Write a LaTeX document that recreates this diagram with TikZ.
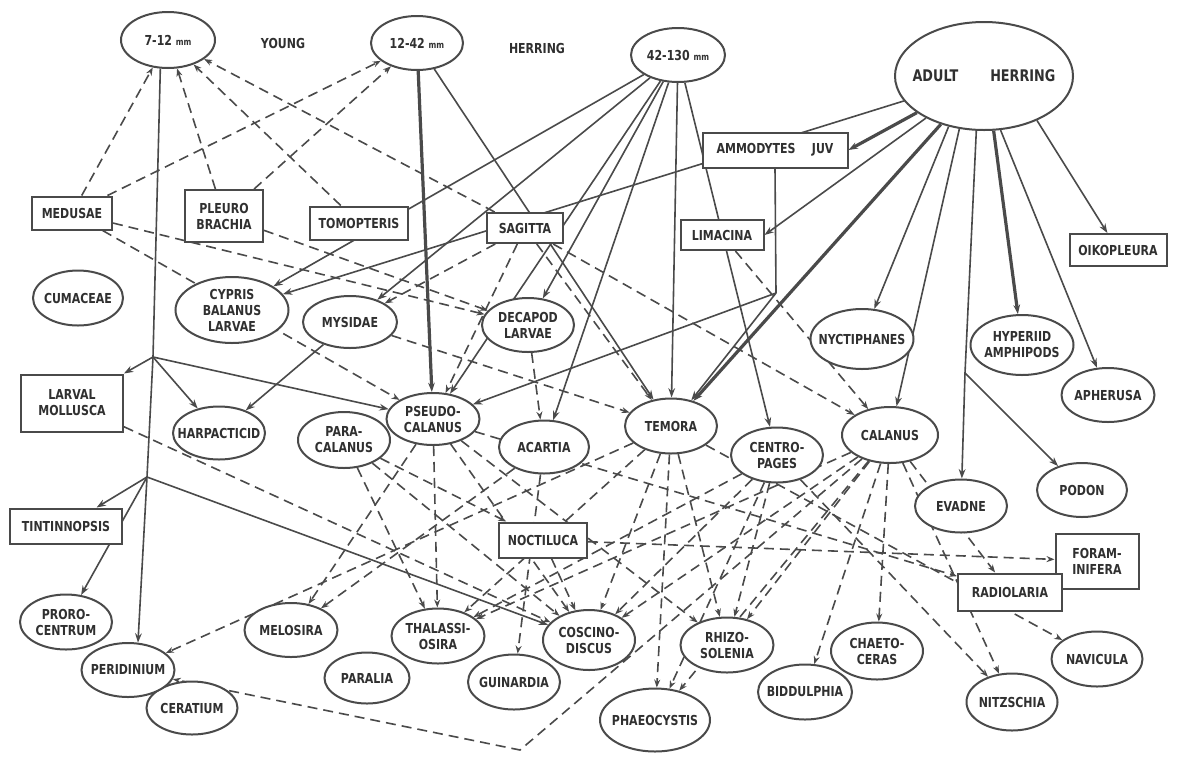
\documentclass[tikz,border=0pt]{standalone}
\usepackage{fontspec}
\setmainfont{DejaVu Sans}[FakeStretch=0.8]
\usetikzlibrary{shapes.geometric,arrows.meta,backgrounds}
\definecolor{ink}{HTML}{4A4A4A}
\definecolor{txt}{HTML}{303030}
\newcommand\mkEl[5]{\node[el,minimum width=#3*0.75pt,minimum height=#4*0.75pt] (#1) at (#2) {}; \node[lab] at (#1.center) {#5};}
\newcommand\mkBx[5]{\node[bx,minimum width=#3*0.75pt,minimum height=#4*0.75pt] (#1) at (#2) {}; \node[lab] at (#1.center) {#5};}
\begin{document}
\begin{tikzpicture}[x=0.75pt,y=-0.75pt,
  el/.style={ellipse,draw=ink,line width=1.5pt,fill=white,inner sep=0pt},
  bx/.style={rectangle,draw=ink,line width=1.5pt,fill=white,inner sep=0pt},
  lab/.style={text=txt,align=center,inner sep=0pt,font=\fontsize{10.3}{12}\selectfont\bfseries},
  sol/.style={draw=ink,line width=1.2pt,-{Stealth[length=7pt,width=5pt]}},
  thk/.style={sol,line width=2.4pt},
  plainln/.style={draw=ink,line width=1.2pt},
  dsh/.style={draw=ink,line width=1.2pt,dash pattern=on 7.5pt off 4.5pt,-{Stealth[length=6pt,width=4.5pt]}}]
\useasboundingbox (0,0) rectangle (1184,758);
% herring stages
\mkEl{n712}{168,40}{94}{56}{7-12 {\scriptsize mm}}
\mkEl{n1242}{417,43}{92}{54}{12-42 {\scriptsize mm}}
\mkEl{n42}{678,55}{94}{54}{42-130 {\scriptsize mm}}
\node[el,minimum width=178*0.75pt,minimum height=108*0.75pt] (adult) at (984,76) {};
\node[lab,font=\fontsize{12}{14}\selectfont\bfseries] at (adult.center) {ADULT\hspace{2em}HERRING};
\node[lab] (young) at (283,43) {YOUNG};
\node[lab] (herr) at (537,48) {HERRING};
% boxes
\mkBx{ammo}{775,150}{145}{35}{AMMODYTES\hspace{1.2em}JUV}
\mkBx{medusae}{72,213}{80}{33}{MEDUSAE}
\mkBx{pleuro}{224,216}{78}{52}{PLEURO\\BRACHIA}
\mkBx{tomop}{359,223}{98}{33}{TOMOPTERIS}
\mkBx{sagitta}{525,228}{76}{30}{SAGITTA}
\mkBx{limacina}{722,235}{83}{30}{LIMACINA}
\mkBx{oiko}{1118,250}{97}{32}{OIKOPLEURA}
\mkBx{larval}{72,403}{102}{57}{LARVAL\\MOLLUSCA}
\mkBx{tintin}{66,526}{112}{35}{TINTINNOPSIS}
\mkBx{noct}{543,540}{88}{35}{NOCTILUCA}
\mkBx{foram}{1097,561}{83}{55}{FORAM-\\INIFERA}
\mkBx{radio}{1010,592}{104}{37}{RADIOLARIA}
% ellipses
\mkEl{cumaceae}{78,298}{90}{55}{CUMACEAE}
\mkEl{cypris}{232,310}{113}{66}{CYPRIS\\BALANUS\\LARVAE}
\mkEl{mysidae}{350,322}{94}{52}{MYSIDAE}
\mkEl{decapod}{528,325}{92}{54}{DECAPOD\\LARVAE}
\mkEl{pseudo}{433,419}{93}{52}{PSEUDO-\\CALANUS}
\mkEl{para}{344,440}{92}{56}{PARA-\\CALANUS}
\mkEl{acartia}{544,447}{90}{53}{ACARTIA}
\mkEl{temora}{671,426}{92}{55}{TEMORA}
\mkEl{centro}{777,455}{92}{55}{CENTRO-\\PAGES}
\mkEl{calanus}{890,435}{96}{56}{CALANUS}
\mkEl{nyct}{862,339}{103}{60}{NYCTIPHANES}
\mkEl{hyper}{1022,345}{103}{60}{HYPERIID\\AMPHIPODS}
\mkEl{apher}{1108,395}{93}{54}{APHERUSA}
\mkEl{evadne}{961,506}{92}{53}{EVADNE}
\mkEl{podon}{1082,490}{90}{54}{PODON}
\mkEl{harp}{219,433}{92}{53}{HARPACTICID}
\mkEl{proro}{66,622}{92}{55}{PRORO-\\CENTRUM}
\mkEl{cerat}{192,708}{91}{53}{CERATIUM}
\mkEl{peri}{128,670}{93}{54}{PERIDINIUM}
\mkEl{melo}{291,630}{93}{54}{MELOSIRA}
\mkEl{paralia}{367,678}{85}{51}{PARALIA}
\mkEl{thal}{438,636}{93}{55}{THALASSI-\\OSIRA}
\mkEl{guin}{514,682}{92}{55}{GUINARDIA}
\mkEl{cosci}{589,640}{92}{60}{COSCINO-\\DISCUS}
\mkEl{rhizo}{727,645}{93}{55}{RHIZO-\\SOLENIA}
\mkEl{phaeo}{655,720}{110}{63}{PHAEOCYSTIS}
\mkEl{bidd}{805,692}{94}{55}{BIDDULPHIA}
\mkEl{chaeto}{877,651}{92}{57}{CHAETO-\\CERAS}
\mkEl{nitz}{1012,702}{91}{57}{NITZSCHIA}
\mkEl{navic}{1097,659}{91}{55}{NAVICULA}
% junctions
\coordinate (j1) at (153,357);
\coordinate (j2) at (147,477);
\coordinate (c1) at (776,293);
\coordinate (ev) at (965,373);
\coordinate (v1) at (520,750);
\begin{pgfonlayer}{background}
\fill[white] (0,0) rectangle (1184,758);
% solid: herring feeding
\draw[plainln] (n712.255) -- (j1) -- (j2);
\draw[sol] (j2) -- (peri.70);
\draw[sol] (j1) -- (larval);
\draw[sol] (j1) -- (harp);
\draw[sol] (j1) -- (pseudo);
\draw[sol] (j2) -- (tintin);
\draw[sol] (j2) -- (proro);
\draw[sol] (j2) -- (cosci);
\draw[sol] (mysidae) -- (harp);
\draw[thk] (n1242) -- (pseudo);
\draw[sol] (n1242) -- (temora);
\draw[sol] (n42) -- (cypris);
\draw[sol] (n42) -- (mysidae);
\draw[sol] (n42) -- (decapod);
\draw[sol] (n42) -- (pseudo);
\draw[sol] (n42) -- (acartia);
\draw[sol] (n42) -- (temora);
\draw[sol] (n42) -- (centro);
\draw[sol] (adult) -- (cypris);
\draw[thk] (adult) -- (ammo.east);
\draw[sol] (adult) -- (limacina.east);
\draw[thk] (adult) -- (temora);
\draw[sol] (adult.235) -- (nyct);
\draw[sol] (adult.245) -- (calanus);
\draw[plainln] (adult.262) -- (ev);
\draw[sol] (ev) -- (evadne);
\draw[sol] (ev) -- (podon);
\draw[thk] (adult.280) -- (hyper);
\draw[sol] (adult.287) -- (apher);
\draw[sol] (adult.320) -- (oiko);
\draw[plainln] (ammo.south) -- (c1);
\draw[sol] (c1) -- (pseudo);
\draw[sol] (c1) -- (temora);
% dashed: other feeding
\draw[dsh] (medusae) -- (n712);
\draw[dsh] (medusae) -- (n1242);
\draw[dsh] (pleuro) -- (n712);
\draw[dsh] (pleuro) -- (n1242);
\draw[dsh] (tomop) -- (n712);
\draw[dsh] (sagitta) -- (n712);
\draw[dsh] (medusae) -- (pseudo);
\draw[dsh] (medusae) -- (decapod);
\draw[dsh] (pleuro) -- (decapod);
\draw[dsh] (sagitta) -- (pseudo);
\draw[dsh] (sagitta) -- (mysidae);
\draw[dsh] (sagitta) -- (calanus);
\draw[dsh] (sagitta) -- (temora);
\draw[dsh] (limacina) -- (calanus);
\draw[dsh] (mysidae) -- (temora);
\draw[dsh] (decapod) -- (acartia);
\draw[dsh] (larval) -- (cosci);
\draw[dsh] (pseudo) -- (melo);
\draw[dsh] (pseudo) -- (thal);
\draw[dsh] (pseudo) -- (cosci);
\draw[dsh] (pseudo) -- (rhizo);
\draw[dsh] (pseudo) -- (radio);
\draw[dsh] (para) -- (thal);
\draw[dsh] (para) -- (cosci);
\draw[dsh] (para) -- (noct);
\draw[dsh] (acartia) -- (melo);
\draw[dsh] (acartia) -- (guin);
\draw[dsh] (temora) -- (peri);
\draw[dsh] (temora) -- (thal);
\draw[dsh] (temora) -- (cosci);
\draw[dsh] (temora) -- (phaeo);
\draw[dsh] (temora) -- (rhizo);
\draw[dsh] (temora) -- (navic);
\draw[dsh] (centro) -- (cosci);
\draw[dsh] (centro) -- (phaeo);
\draw[dsh] (centro) -- (rhizo);
\draw[dsh] (centro) -- (thal);
\draw[dsh] (centro) -- (nitz);
\draw[dsh] (calanus) -- (cosci);
\draw[dsh] (calanus) -- (rhizo);
\draw[dsh] (calanus) -- (phaeo);
\draw[dsh] (calanus) -- (bidd);
\draw[dsh] (calanus) -- (chaeto);
\draw[dsh] (calanus) -- (nitz);
\draw[dsh] (calanus) -- (radio);
\draw[dsh] (calanus) -- (thal);
\draw[dsh] (calanus) -- (v1) -- (peri);
\draw[dsh] (noct) -- (foram);
\draw[dsh] (noct) -- (cosci);
\end{pgfonlayer}
\end{tikzpicture}
\end{document}
